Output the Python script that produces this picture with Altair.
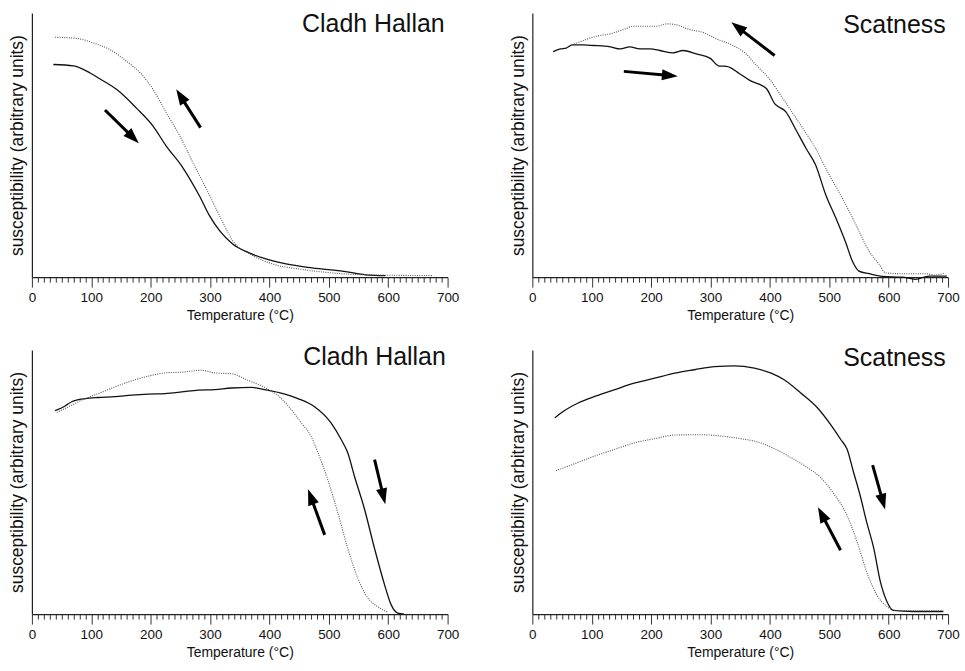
import math
import altair as alt
import pandas as pd

W, H = 417, 265
FONT = "Liberation Sans"

x_ticks = list(range(0, 701, 10))

# ---- Panel 1: Cladh Hallan (top) ----
p1_heat_T = [36, 70, 98, 115, 143, 176, 204, 226, 254, 282, 299, 316, 338, 366, 394, 428, 472, 528, 562, 595]
p1_heat_v = [0.805, 0.80, 0.773, 0.75, 0.71, 0.64, 0.572, 0.497, 0.415, 0.308, 0.233, 0.176, 0.126, 0.092,
             0.069, 0.05, 0.035, 0.021, 0.009, 0.006]
p1_cool_T = [39, 75, 103, 131, 159, 182, 204, 226, 249, 271, 294, 316, 338, 372, 405, 450, 506, 562, 674]
p1_cool_v = [0.908, 0.904, 0.887, 0.862, 0.818, 0.774, 0.711, 0.623, 0.535, 0.434, 0.333, 0.233, 0.138,
             0.082, 0.05, 0.031, 0.016, 0.009, 0.006]
p1_arrows = [(123, 0.633, 180, 0.507), (284, 0.566, 243, 0.711)]

# ---- Panel 2: Scatness (top) ----
p2_heat_T = [35, 47, 57, 67, 86, 103, 131, 148, 164, 181, 198, 215, 237, 254, 276, 299, 315, 327, 349, 366,
             394, 408, 427, 444, 461, 477, 494, 511, 528, 539, 550, 567, 589, 623, 645, 668, 698]
p2_heat_v = [0.854, 0.864, 0.867, 0.879, 0.879, 0.877, 0.872, 0.864, 0.872, 0.864, 0.864, 0.858, 0.849, 0.858,
             0.845, 0.829, 0.799, 0.798, 0.770, 0.745, 0.714, 0.657, 0.626, 0.557, 0.487, 0.425, 0.312, 0.224,
             0.129, 0.06, 0.023, 0.013, 0.003, 0.0, -0.008, 0.004, 0.004]
p2_cool_T = [67, 86, 108, 131, 153, 170, 209, 226, 243, 265, 287, 310, 338, 360, 377, 399, 422, 450, 477, 500,
             522, 545, 567, 584, 595, 623, 662, 679, 693]
p2_cool_v = [0.879, 0.896, 0.912, 0.921, 0.937, 0.950, 0.950, 0.959, 0.955, 0.937, 0.927, 0.902, 0.877, 0.845,
             0.802, 0.751, 0.676, 0.582, 0.487, 0.387, 0.299, 0.198, 0.098, 0.048, 0.016, 0.013, 0.013, 0.008,
             0.015]
p2_arrows = [(154, 0.779, 245, 0.761), (408, 0.839, 335, 0.965)]

# ---- Panel 3: Cladh Hallan (bottom) ----
p3_heat_T = [39, 56, 67, 90, 112, 140, 168, 196, 224, 252, 280, 308, 336, 370, 392, 426, 448, 476, 504, 521,
             532, 543, 560, 577, 594, 605, 616, 627]
p3_heat_v = [0.77, 0.788, 0.804, 0.816, 0.82, 0.823, 0.829, 0.833, 0.835, 0.841, 0.848, 0.85, 0.856, 0.858,
             0.85, 0.833, 0.816, 0.785, 0.723, 0.66, 0.61, 0.523, 0.398, 0.248, 0.11, 0.035, 0.004, 0.0]
p3_cool_T = [42, 62, 90, 112, 140, 168, 202, 224, 252, 286, 308, 336, 364, 392, 420, 437, 454, 470, 482, 498,
             515, 532, 549, 566, 582, 599]
p3_cool_v = [0.763, 0.785, 0.816, 0.835, 0.86, 0.883, 0.904, 0.913, 0.916, 0.923, 0.913, 0.91, 0.885, 0.858,
             0.816, 0.773, 0.723, 0.673, 0.61, 0.51, 0.385, 0.248, 0.135, 0.06, 0.029, 0.0075]
p3_arrows = [(493, 0.30, 465, 0.4725), (577, 0.585, 595, 0.416)]

# ---- Panel 4: Scatness (bottom) ----
p4_heat_T = [38, 50, 78, 106, 139, 173, 206, 240, 273, 307, 340, 374, 402, 424, 452, 480, 502, 519, 530, 541,
             552, 563, 575, 586, 597, 608, 641, 692]
p4_heat_v = [0.743, 0.764, 0.8, 0.825, 0.85, 0.875, 0.893, 0.912, 0.925, 0.937, 0.94, 0.931, 0.912, 0.887,
             0.837, 0.781, 0.718, 0.662, 0.624, 0.536, 0.449, 0.348, 0.248, 0.123, 0.048, 0.014, 0.01, 0.01]
p4_cool_T = [40, 73, 106, 139, 173, 206, 240, 284, 318, 351, 379, 407, 435, 463, 485, 508, 530, 547, 563, 580,
             597, 611, 641, 692]
p4_cool_v = [0.543, 0.571, 0.599, 0.624, 0.649, 0.664, 0.678, 0.679, 0.674, 0.664, 0.652, 0.627, 0.593, 0.555,
             0.518, 0.455, 0.373, 0.273, 0.16, 0.073, 0.029, 0.014, 0.0125, 0.0125]
p4_arrows = [(519, 0.242, 481, 0.405), (573, 0.564, 594, 0.396)]

titles = ["Cladh Hallan", "Scatness", "Cladh Hallan", "Scatness"]
title_pos = [(695, 0.96), (696, 0.955), (697, 0.975), (696, 0.97)]

HEAD_R = 8  # half-length of arrow head in px
HEAD_PATH = "M0,-1L0.7,1L-0.7,1Z"


def arrow_frame(arrows):
    rows = []
    for t0, v0, t1, v1 in arrows:
        dxp = (t1 - t0) * W / 700
        dyp = (v1 - v0) * H
        ln = math.hypot(dxp, dyp)
        ux, uy = dxp / ln, dyp / ln
        tc = t1 - HEAD_R * ux * 700 / W
        vc = v1 - HEAD_R * uy / H
        ang = math.degrees(math.atan2(ux, uy)) % 360
        rows.append({"t0": t0, "v0": v0, "tc": tc, "vc": vc, "ang": ang})
    return pd.DataFrame(rows)


x_axis = alt.Axis(
    title="Temperature (°C)",
    values=x_ticks,
    labelExpr="datum.value % 100 == 0 ? datum.label : ''",
    labelOverlap=False,
    labelFlush=False,
    labelBound=False,
    tickSize={"expr": "datum.value % 100 == 0 ? 10 : 5"},
    tickColor="#333",
    tickWidth=1,
    domainColor="#222",
    domainWidth=1.2,
    grid=False,
    labelFont=FONT,
    labelFontSize=13.5,
    labelColor="#111",
    labelPadding=3,
    titleFont=FONT,
    titleFontSize=14,
    titleFontWeight="normal",
    titleColor="#111",
    titlePadding=5,
)

y_axis = alt.Axis(
    title="susceptibility (arbitrary units)",
    ticks=False,
    labels=False,
    grid=False,
    domainColor="#222",
    domainWidth=1.2,
    titleFont=FONT,
    titleFontSize=17.5,
    titleFontWeight="normal",
    titleColor="#111",
    titlePadding=5,
)

x_scale = alt.Scale(domain=[0, 700], nice=False, zero=False)
y_scale = alt.Scale(domain=[0, 1], nice=False, zero=False)


def panel(title, tpos, heatT, heatV, coolT, coolV, arrows):
    heat = pd.DataFrame({"T": heatT, "v": heatV})
    cool = pd.DataFrame({"T": coolT, "v": coolV})
    arr = arrow_frame(arrows)
    lab = pd.DataFrame({"T": [tpos[0]], "v": [tpos[1]], "name": [title]})

    X = alt.X("T:Q", scale=x_scale, axis=x_axis)
    Y = alt.Y("v:Q", scale=y_scale, axis=y_axis)

    l_heat = alt.Chart(heat).mark_line(color="#111", strokeWidth=1.3, interpolate="monotone").encode(x=X, y=Y)
    l_cool = alt.Chart(cool).mark_line(color="#555", strokeWidth=1.1, strokeDash=[1, 1.3],
                                       interpolate="monotone").encode(x=X, y=Y)
    shafts = alt.Chart(arr).mark_rule(color="#000", strokeWidth=3).encode(
        x=alt.X("t0:Q", scale=x_scale, axis=x_axis),
        y=alt.Y("v0:Q", scale=y_scale, axis=y_axis),
        x2="tc:Q",
        y2="vc:Q",
    )
    heads = alt.Chart(arr).mark_point(shape=HEAD_PATH, filled=True, size=(2 * HEAD_R) ** 2,
                                      color="#000", opacity=1, strokeWidth=0).encode(
        x=alt.X("tc:Q", scale=x_scale, axis=x_axis),
        y=alt.Y("vc:Q", scale=y_scale, axis=y_axis),
        angle=alt.Angle("ang:Q", scale=None),
    )
    txt = alt.Chart(lab).mark_text(align="right", baseline="middle", font=FONT, fontSize=25,
                                   color="#111").encode(
        x=alt.X("T:Q", scale=x_scale, axis=x_axis),
        y=alt.Y("v:Q", scale=y_scale, axis=y_axis),
        text="name:N",
    )
    return alt.layer(l_heat, l_cool, shafts, heads, txt).properties(width=W, height=H)


p1 = panel(titles[0], title_pos[0], p1_heat_T, p1_heat_v, p1_cool_T, p1_cool_v, p1_arrows)
p2 = panel(titles[1], title_pos[1], p2_heat_T, p2_heat_v, p2_cool_T, p2_cool_v, p2_arrows)
p3 = panel(titles[2], title_pos[2], p3_heat_T, p3_heat_v, p3_cool_T, p3_cool_v, p3_arrows)
p4 = panel(titles[3], title_pos[3], p4_heat_T, p4_heat_v, p4_cool_T, p4_cool_v, p4_arrows)

row1 = alt.hconcat(p1, p2, spacing=50)
row2 = alt.hconcat(p3, p4, spacing=50)

chart = alt.vconcat(row1, row2, spacing=21).properties(
    padding={"left": 9, "top": 10, "right": 5, "bottom": 5},
    background="white",
).configure_view(stroke=None)

chart.save("out.html", embed_options={"renderer": "svg", "actions": False})
